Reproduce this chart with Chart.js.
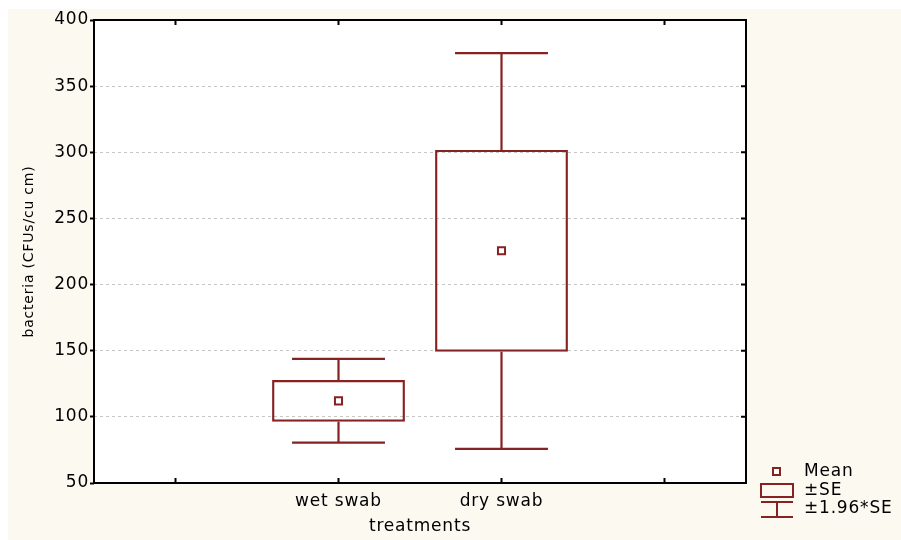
<!DOCTYPE html>
<html>
<head>
<meta charset="utf-8">
<script src="https://cdn.jsdelivr.net/npm/chart.js@4/dist/chart.umd.min.js"></script>
<style>
  html, body { margin: 0; padding: 0; background: #ffffff; }
  canvas { display: block; }
</style>
</head>
<body>
<canvas id="boxChart" width="901" height="540"></canvas>
<script>
// treatments on the x axis (outer slots stay empty, like the original plot)
const categories = ['', 'wet swab', 'dry swab', ''];
const means  = [null, 112.1, 225.5, null];
const seLow  = [null, 96.3, 149.2, null];
const seHigh = [null, 127.9, 301.8, null];
const ciLow  = [null, 80.5, 75.8, null];
const ciHigh = [null, 143.8, 375.0, null];
const yTicks = [50, 100, 150, 200, 250, 300, 350, 400];
const legendLabels = ['Mean', '±SE', '±1.96*SE'];

const red = '#862222';
const cream = '#fcf9f1';
const font = 'DejaVu Sans';

const seBars = seLow.map((v, i) => v == null ? null : [v, seHigh[i]]);

const framePlugin = {
  id: 'frame',
  beforeDraw(chart) {
    const {ctx, chartArea: a} = chart;
    ctx.save();
    ctx.fillStyle = '#ffffff';
    ctx.fillRect(0, 0, chart.width, chart.height);
    ctx.fillStyle = cream;
    ctx.fillRect(8, 9, chart.width - 8, chart.height - 9);
    ctx.fillStyle = '#ffffff';
    ctx.fillRect(a.left, a.top, a.right - a.left, a.bottom - a.top);
    ctx.restore();
    ctx.letterSpacing = '0.8px';
  },
  afterDatasetsDraw(chart) {
    const {ctx} = chart;
    const x = chart.scales.x, y = chart.scales.y;
    const step = x.getPixelForValue(1) - x.getPixelForValue(0);
    const capHalf = step * 0.285;
    ctx.save();
    ctx.strokeStyle = red;
    ctx.lineWidth = 2.2;
    for (let i = 0; i < categories.length; i++) {
      if (means[i] == null) continue;
      const px = x.getPixelForValue(i);
      const yTop = y.getPixelForValue(ciHigh[i]);
      const yBot = y.getPixelForValue(ciLow[i]);
      ctx.beginPath();
      ctx.moveTo(px, y.getPixelForValue(seHigh[i]));
      ctx.lineTo(px, yTop);
      ctx.moveTo(px - capHalf, yTop);
      ctx.lineTo(px + capHalf, yTop);
      ctx.moveTo(px, y.getPixelForValue(seLow[i]));
      ctx.lineTo(px, yBot);
      ctx.moveTo(px - capHalf, yBot);
      ctx.lineTo(px + capHalf, yBot);
      ctx.stroke();
    }
    ctx.restore();
  },
  afterDraw(chart) {
    const {ctx, chartArea: a} = chart;
    const x = chart.scales.x, y = chart.scales.y;
    ctx.save();
    // plot frame
    ctx.strokeStyle = '#000000';
    ctx.lineWidth = 2;
    ctx.strokeRect(a.left, a.top, a.right - a.left, a.bottom - a.top);
    ctx.beginPath();
    yTicks.forEach(v => {
      const py = y.getPixelForValue(v);
      ctx.moveTo(a.right, py);
      ctx.lineTo(a.right - 5, py);
    });
    for (let i = 0; i < categories.length; i++) {
      const px = x.getPixelForValue(i);
      ctx.moveTo(px, a.bottom);
      ctx.lineTo(px, a.bottom - 5);
      ctx.moveTo(px, a.top);
      ctx.lineTo(px, a.top + 5);
    }
    ctx.stroke();

    // legend
    const lx = a.right + 15;
    const tx = a.right + 58;
    ctx.strokeStyle = red;
    ctx.fillStyle = '#ffffff';
    ctx.lineWidth = 2;
    ctx.fillRect(lx + 12, a.bottom - 15, 7, 7);
    ctx.strokeRect(lx + 12, a.bottom - 15, 7, 7);
    ctx.strokeRect(lx, a.bottom + 1, 32, 13);
    ctx.beginPath();
    ctx.moveTo(lx, a.bottom + 19);
    ctx.lineTo(lx + 32, a.bottom + 19);
    ctx.moveTo(lx + 16, a.bottom + 19);
    ctx.lineTo(lx + 16, a.bottom + 34);
    ctx.moveTo(lx, a.bottom + 34);
    ctx.lineTo(lx + 32, a.bottom + 34);
    ctx.stroke();
    ctx.fillStyle = '#000000';
    ctx.font = '17px "' + font + '"';
    ctx.textBaseline = 'middle';
    ctx.textAlign = 'left';
    ctx.fillText(legendLabels[0], tx, a.bottom - 11);
    ctx.fillText(legendLabels[1], tx, a.bottom + 8);
    ctx.fillText(legendLabels[2], tx, a.bottom + 26);
    ctx.restore();
  }
};

const chart = new Chart(document.getElementById('boxChart').getContext('2d'), {
  type: 'bar',
  data: {
    labels: categories,
    datasets: [
      {
        label: 'Mean',
        type: 'line',
        data: means,
        showLine: false,
        pointStyle: 'rect',
        pointRadius: 5,
        pointBorderWidth: 2,
        pointBorderColor: red,
        pointBackgroundColor: '#ffffff',
        order: 0
      },
      {
        label: '±SE',
        data: seBars,
        backgroundColor: 'rgba(255,255,255,0)',
        borderColor: red,
        borderWidth: 2.2,
        borderSkipped: false,
        barPercentage: 0.815,
        categoryPercentage: 1.0,
        order: 1
      }
    ]
  },
  options: {
    responsive: false,
    animation: false,
    layout: { padding: { top: 20, right: 155, left: 0, bottom: 0 } },
    plugins: { legend: { display: false }, tooltip: { enabled: false } },
    scales: {
      x: {
        offset: true,
        grid: { display: false, drawTicks: false },
        border: { display: false },
        ticks: { color: '#000000', font: { family: font, size: 17 }, padding: 8, maxRotation: 0, autoSkip: false },
        title: { display: true, text: 'treatments', color: '#000000', font: { family: font, size: 17 }, padding: { top: 0, bottom: 3 } },
        afterFit(scale) { scale.height = 57; }
      },
      y: {
        min: 50,
        max: 400,
        afterBuildTicks(scale) { scale.ticks = yTicks.map(v => ({ value: v })); },
        grid: { color: '#c6c6c6', lineWidth: 1, tickColor: '#000000', tickLength: 4, tickWidth: 2 },
        border: { display: false, dash: [3, 3] },
        ticks: { color: '#000000', font: { family: font, size: 17 }, padding: 1 },
        title: { display: true, text: 'bacteria (CFUs/cu cm)', color: '#000000', font: { family: font, size: 14 }, padding: { top: 21, bottom: 0 } },
        afterFit(scale) { scale.width = 94; }
      }
    }
  },
  plugins: [framePlugin]
});
</script>
</body>
</html>
